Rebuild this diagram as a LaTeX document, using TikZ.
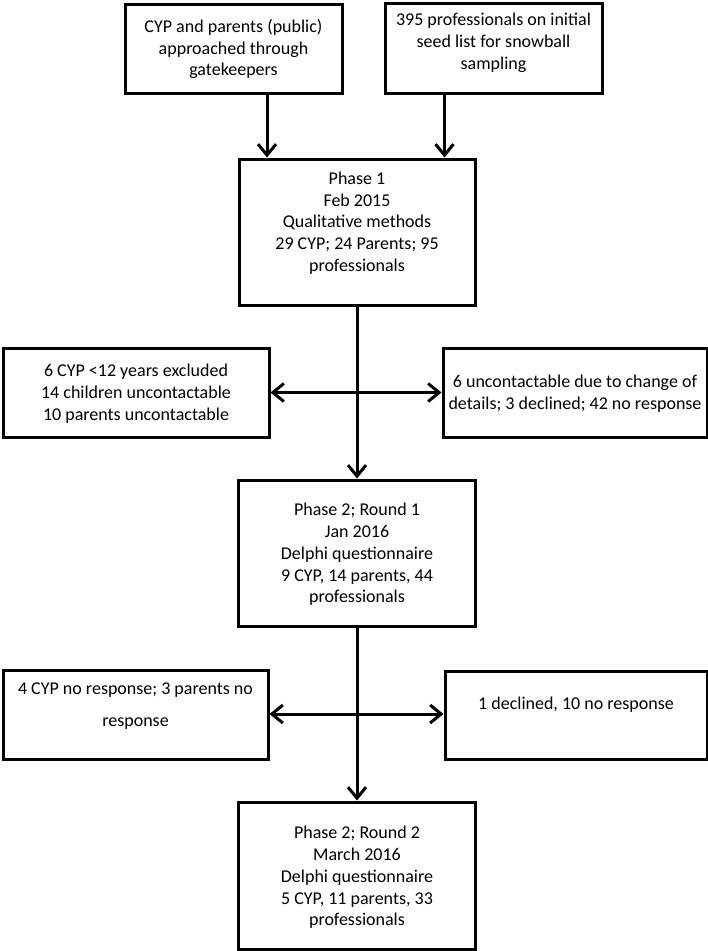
\documentclass[tikz,border=0pt]{standalone}
\usepackage{fontspec}
\setmainfont{Carlito}
\usetikzlibrary{arrows.meta,calc}
\begin{document}
\begin{tikzpicture}[x=1pt,y=-1pt,
  box/.style={draw=black,line width=3pt,rectangle,inner sep=0pt},
  txt/.style={align=center,inner sep=0pt,font=\fontsize{18}{21.8}\selectfont},
  barb/.tip={Straight Barb[length=11pt,width=18pt]},
  arr/.style={line width=3pt,-barb},
  darr/.style={line width=3pt,barb-barb}]
\useasboundingbox[fill=white] (0,0) rectangle (708,951);
% boxes
\node[box,minimum width=217pt,minimum height=89pt] (A) at (233.5,48.5) {};
\node[box,minimum width=217pt,minimum height=90pt] (B) at (493.5,48) {};
\node[box,minimum width=236pt,minimum height=146pt] (P1) at (357,232) {};
\node[box,minimum width=266pt,minimum height=89pt] (L1) at (136,392.5) {};
\node[box,minimum width=264pt,minimum height=89pt] (R1) at (575,392.5) {};
\node[box,minimum width=237pt,minimum height=146pt] (P2) at (357,553) {};
\node[box,minimum width=265pt,minimum height=89pt] (L2) at (135.5,714.5) {};
\node[box,minimum width=262pt,minimum height=88pt] (R2) at (576,715) {};
\node[box,minimum width=237pt,minimum height=147pt] (P3) at (357,875.5) {};
% texts
\node[txt] (At) at (233.5,49) {CYP and parents (public)\\approached through\\gatekeepers};
\node[txt] (Bt) at (493.5,42.5) {395 professionals on initial\\seed list for snowball\\sampling};
\node[txt] (P1t) at (357,223) {Phase 1\\Feb 2015\\Qualitative methods\\29 CYP; 24 Parents; 95\\professionals};
\node[txt] (L1t) at (136,393.5) {6 CYP <12 years excluded\\14 children uncontactable\\10 parents uncontactable};
\node[txt] (R1t) at (575,393.5) {6 uncontactable due to change of\\details; 3 declined; 42 no response};
\node[txt,font=\fontsize{18}{32}\selectfont] (L2t) at (135.5,706.5) {4 CYP no response; 3 parents no\\response};
\node[txt] (R2t) at (576,705) {1 declined, 10 no response};
\node[txt] (P2t) at (357,554.5) {Phase 2; Round 1\\Jan 2016\\Delphi questionnaire\\9 CYP, 14 parents, 44\\professionals};
\node[txt] (P3t) at (357,877.5) {Phase 2; Round 2\\March 2016\\Delphi questionnaire\\5 CYP, 11 parents, 33\\professionals};
% connectors
\coordinate (ca) at (267,0);
\coordinate (cb) at (444.5,0);
\draw[arr] (ca |- A.south) -- (ca |- P1.north);
\draw[arr] (cb |- B.south) -- (cb |- P1.north);
\draw[arr] (P1.south) -- (P2.north);
\draw[arr] (P2.south) -- (P3.north);
\draw[darr] (L1.east) -- (R1.west);
\coordinate (h2) at (0,714);
\draw[darr] (L2.east |- h2) -- (R2.west |- h2);
\end{tikzpicture}
\end{document}
